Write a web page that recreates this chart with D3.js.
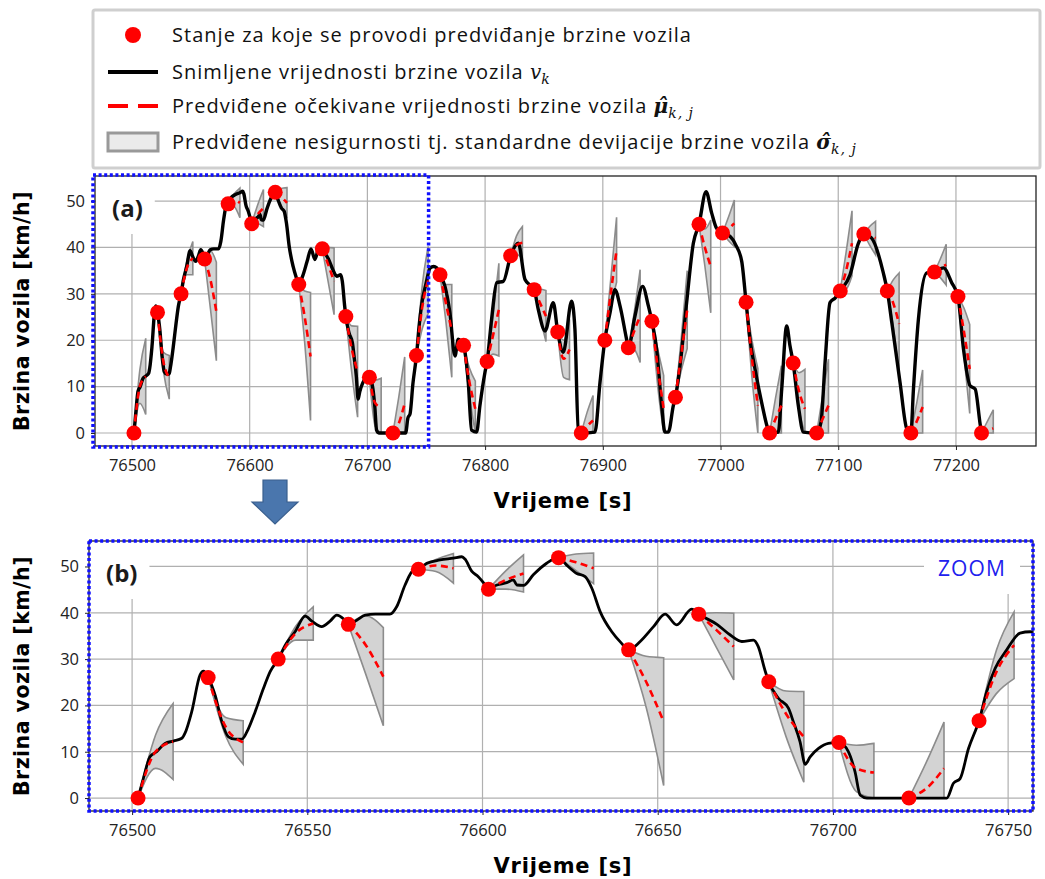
<!DOCTYPE html>
<html><head><meta charset="utf-8">
<script src="https://cdn.jsdelivr.net/npm/d3@7"></script>
<style>body{margin:0;background:#fff} svg{display:block}</style>
</head><body><svg id="c" width="1045" height="879"></svg>
<script>
// ---------------- DATA ----------------
const speedTime = [76501.7,76503.2,76505.1,76507,76509.4,76511.8,76514.2,76515.1,76517,76519.4,76520.4,76521.7,76523.7,76525.6,76527.5,76529.4,76531.3,76533.2,76535.1,76537.5,76539.4,76541.7,76543.7,76546.5,76549.4,76551.3,76554.1,76556.5,76558.4,76560.3,76561.7,76564.1,76566.5,76569.4,76573.6,76575.5,76577.9,76580.3,76581.7,76584.1,76587.9,76591.7,76594.1,76595,76596.9,76598.8,76600.7,76601.7,76604.1,76606.9,76608.8,76609.8,76611.7,76614.5,76618.3,76621.7,76624,76626.9,76629.3,76631.2,76633.6,76636.9,76639.7,76641.7,76645,76648.8,76652.1,76655.4,76659.7,76661.7,76666.9,76670.7,76674,76677.3,76678.7,76680.6,76681.7,76684.5,76687.3,76688.7,76690.6,76692.1,76693.5,76695.9,76698.7,76701.7,76704.4,76706.3,76707.8,76709.7,76720,76732.5,76734.4,76736.3,76738.7,76741.1,76741.7,76743.9,76746.3,76749.6,76753.4,76756.3,76758.8,76761.7,76765.9,76770.1,76774.4,76777.2,76780.1,76781.7,76785.7,76788.5,76792.8,76795.6,76799.9,76801.7,76805.5,76809.8,76815.5,76821.7,76828.2,76833.9,76839.5,76841.7,76845.2,76850.9,76857.9,76861.7,76866.4,76873.5,76876.3,76879.2,76881.7,76893.3,76897.6,76901.7,76906.1,76910.3,76914.6,76920.2,76921.7,76927.3,76933.8,76938.7,76941.7,76945.7,76950,76952.8,76955.7,76959.9,76961.7,76965.6,76971.2,76976.9,76981.7,76987.7,76992.5,76996.7,77001.7,77008,77013,77018,77021.7,77025,77029.3,77034.9,77040.6,77041.7,77049.1,77052,77056.2,77059,77061.7,77066.1,77070.4,77081.7,77085.4,77088.8,77093,77097.3,77101.7,77110,77117.1,77121.7,77128.4,77138.3,77141.7,77145.5,77152.5,77158.2,77161.7,77163.9,77168.1,77175.2,77181.7,77189.4,77196.4,77201.7,77206.4,77212,77216.3,77220.5,77221.7];
const speedKmh = [0,4.2,8.9,10,11.8,12.3,12.9,14,18.6,26.6,27.4,26,22.2,16.5,13.2,12.7,12.7,15,18.6,23.7,27.3,30,33,35.9,39.3,38.2,37,38.2,39.5,38.7,37.5,38.4,39.5,39.7,39.7,41.3,46,49.2,49.4,50.7,51.4,51.8,52.1,51.6,49,47.8,46.1,45.1,46,46.5,47.1,46,45.9,48.2,50.7,51.9,50.3,48.5,47.8,45.3,40.2,35.9,33.4,32,33.8,37,39.7,37.4,40.8,39.7,37.5,35.2,33.8,34.1,32.7,27.6,25.1,21.5,19.4,16.5,12.2,7.3,8.9,10.7,11.8,12,10,5.7,0.6,0,0,0,3.2,4.2,10.7,15.4,16.7,23,28,32,35.6,35.9,35.6,34.1,31.6,25.9,16.6,20.2,19.5,18.9,10.9,0.6,0.2,5.9,13.1,15.4,24.5,32.4,32.7,38.2,40.9,33.1,31.6,30.9,26.6,22,28.1,21.8,17.4,28.4,22.4,0.2,0,0.2,10.9,20,25.9,30.9,27.4,20.2,18.4,25.2,31.6,27.4,24.1,18.1,5.9,0.2,0.2,5.9,7.7,14.5,28.1,40.9,45,52,47.4,44.1,43.1,42.4,40.5,37,28.2,20.2,13.8,6.6,0.6,0,0.2,9.5,23.1,18.8,15.1,5.9,0.2,0,2.4,15.2,28.1,29.1,30.6,34.1,40.9,42.9,42,34.5,30.6,23.8,10.9,0.9,0,9.5,24.5,34.5,34.7,35.6,32.4,29.4,18.1,10.2,9.5,2,0];

const stateTime = [76501.7,76521.7,76541.7,76561.7,76581.7,76601.7,76621.7,76641.7,76661.7,76681.7,76701.7,76721.7,76741.7,76761.7,76781.7,76801.7,76821.7,76841.7,76861.7,76881.7,76901.7,76921.7,76941.7,76961.7,76981.7,77001.7,77021.7,77041.7,77061.7,77081.7,77101.7,77121.7,77141.7,77161.7,77181.7,77201.7,77221.7];
const stateSpeed = [0,26,30,37.5,49.4,45.1,51.9,32,39.7,25.1,12,0,16.7,34.1,18.9,15.4,38.2,30.9,21.8,0,20,18.4,24.1,7.7,45,43.1,28.2,0,15.1,0,30.6,42.9,30.6,0,34.7,29.4,0];

// prediction at horizon offsets 0 s, 5 s, 10 s
const predOffsets = [0, 5, 10];
const predMeanMid = [10,15.4,35.6,33,50.2,47.1,50.9,25.1,36.3,18.1,6.4,2.1,27.3,28,11,21,40.5,28,16,1.5,30,22,14,17,40,44,16,3,9,3,35,42.5,28,2.5,35.5,22,0.5];
const predMeanEnd = [12.2,12,37.7,26.2,49.6,48.5,49.6,16.5,32.7,13.2,5.5,6.4,33,22,5.2,26.6,41,25.2,18,2.7,39.5,25.2,5.2,26.6,35.9,45.2,5.9,5.9,5.2,5.9,40.9,42,23.5,5.6,36.3,13.8,1];
const predSigmaMid = [3.6,2,1.5,6.3,1.3,2,1.8,5.5,3.7,5,5,5.7,4.7,4,3,4,2,3,4,3,3,4,4,3.5,4,2.5,4,4.5,4,5,4,2,5,4,2,5,2];
const predSigmaEnd = [8.2,4.7,3.6,10.6,3.2,4,3.3,13.8,7.2,9.8,6.3,10,7.2,10,6,10,3.5,5.5,6.5,5.4,7,10,7.2,8.4,10,5,8,8.6,8.5,10,7,3.6,11,8,4.4,9.6,4];

const xTicksA = [76500,76600,76700,76800,76900,77000,77100,77200];
const xTicksB = [76500,76550,76600,76650,76700,76750];
const yTicks = [0,10,20,30,40,50];
const zoomEnd = 76752;

const legendLabels = [
  ["Stanje za koje se provodi predviđanje brzine vozila"],
  ["Snimljene vrijednosti brzine vozila ", "v", "k"],
  ["Predviđene očekivane vrijednosti brzine vozila ", "\u03BC\u0302", "k, j"],
  ["Predviđene nesigurnosti tj. standardne devijacije brzine vozila ", "\u03C3\u0302", "k, j"]
];
const xLabel = "Vrijeme [s]";
const yLabel = "Brzina vozila [km/h]";

// ---------------- DRAW ----------------
const svg = d3.select("#c");
const FONT = "'Open Sans', 'DejaVu Sans', sans-serif";
const BFONT = "'DejaVu Sans', sans-serif";
const RED = "#ff0000";

function fitWidth(sel, target) {
  const n = sel.node();
  const len = n.getComputedTextLength();
  const ls = (target - len) / n.textContent.length;
  sel.attr("letter-spacing", ls);
  return ls;
}

function panel(cfg) {
  const {left, right, top, bottom, xDom, yDom, ticksX, id, lw, dotR, tag} = cfg;
  const x = d3.scaleLinear().domain(xDom).range([left, right]);
  const y = d3.scaleLinear().domain(yDom).range([bottom, top]);
  const g = svg.append("g");
  svg.append("clipPath").attr("id", id).append("rect")
    .attr("x", left).attr("y", top).attr("width", right - left).attr("height", bottom - top);

  // grid
  const grid = g.append("g").attr("stroke", "#b0b0b0").attr("stroke-width", 1.2);
  ticksX.forEach(t => grid.append("line").attr("x1", x(t)).attr("x2", x(t)).attr("y1", top).attr("y2", bottom));
  yTicks.forEach(v => grid.append("line").attr("x1", left).attr("x2", right).attr("y1", y(v)).attr("y2", y(v)));

  // tag label with white box
  const tagG = g.append("g");
  const tagBox = tagG.append("rect").attr("fill", "#fff");
  const tagT = tagG.append("text").attr("x", left + 17).attr("y", top + 41)
    .attr("font-family", FONT).attr("font-size", 24).attr("font-weight", "bold").attr("fill", "#1b1b1b").text(tag);
  const bb = tagT.node().getBBox();
  tagBox.attr("x", left + 1).attr("y", top + 1).attr("width", bb.x + bb.width + 12 - left - 1).attr("height", bb.y + bb.height + 10 - top - 1);

  const plot = g.append("g").attr("clip-path", `url(#${id})`);
  // bands
  const area = d3.area().x(d => x(d.t)).y0(d => y(Math.max(0, d.m - d.s))).y1(d => y(d.m + d.s)).curve(d3.curveMonotoneX);
  const line = d3.line().x(d => x(d.t)).y(d => y(d.m)).curve(d3.curveMonotoneX);
  const fans = stateTime.map((t, i) => {
    const m = [stateSpeed[i], predMeanMid[i], predMeanEnd[i]];
    const s = [0, predSigmaMid[i], predSigmaEnd[i]];
    return predOffsets.map((o, k) => ({t: t + o, m: m[k], s: s[k]}));
  });
  plot.append("g").selectAll("path").data(fans).join("path")
    .attr("d", area).attr("fill", "#d3d3d3").attr("stroke", "#8c8c8c").attr("stroke-width", 1.6);
  // measured speed
  const sp = speedTime.map((t, i) => ({t, v: speedKmh[i]}));
  plot.append("path").datum(sp).attr("d", d3.line().x(d => x(d.t)).y(d => y(d.v)).curve(d3.curveMonotoneX))
    .attr("fill", "none").attr("stroke", "#000").attr("stroke-width", lw).attr("stroke-linejoin", "round");
  // predicted mean
  plot.append("g").selectAll("path").data(fans).join("path")
    .attr("d", line).attr("fill", "none").attr("stroke", RED).attr("stroke-width", 2.6).attr("stroke-dasharray", "7,4.5");
  // dots
  plot.append("g").selectAll("circle").data(stateTime).join("circle")
    .attr("cx", d => x(d)).attr("cy", (d, i) => y(stateSpeed[i])).attr("r", dotR).attr("fill", RED);

  // frame
  g.append("rect").attr("x", left).attr("y", top).attr("width", right - left).attr("height", bottom - top)
    .attr("fill", "none").attr("stroke", "#222").attr("stroke-width", 1.3);

  // axes
  const ax = g.append("g").attr("transform", `translate(0,${bottom})`)
    .call(d3.axisBottom(x).tickValues(ticksX).tickFormat(d3.format("d")).tickSize(4).tickPadding(9));
  const ay = g.append("g").attr("transform", `translate(${left},0)`)
    .call(d3.axisLeft(y).tickValues(yTicks).tickSize(4).tickPadding(6));
  [ax, ay].forEach(a => {
    a.select(".domain").remove();
    a.selectAll("text").attr("font-family", FONT).attr("font-size", 16.5).attr("fill", "#222");
    a.selectAll("line").attr("stroke", "#222");
  });
  const xl = g.append("text").attr("x", 563).attr("y", bottom + 62).attr("text-anchor", "middle")
    .attr("font-family", BFONT).attr("font-size", 21).attr("font-weight", "bold").text(xLabel);
  fitWidth(xl, 139);
  const yl = g.append("text").attr("transform", `translate(29,${(top + bottom) / 2}) rotate(-90)`).attr("text-anchor", "middle")
    .attr("font-family", BFONT).attr("font-size", 20.5).attr("font-weight", "bold").text(yLabel);
  fitWidth(yl, 240);
  return {x, y, g};
}

const A = panel({left: 95, right: 1036, top: 176, bottom: 446, xDom: [76468.6, 77268], yDom: [-2.8, 55.4],
  ticksX: xTicksA, id: "clipA", lw: 3.4, dotR: 7.5, tag: "(a)"});
const B = panel({left: 89, right: 1033, top: 541, bottom: 811, xDom: [76487.7, 76757.1], yDom: [-2.8, 55.5],
  ticksX: xTicksB, id: "clipB", lw: 2.8, dotR: 7.5, tag: "(b)"});

// zoom rectangle in panel (a)
const blue = "#1010ff";
svg.append("rect").attr("x", 93).attr("y", 175).attr("width", A.x(zoomEnd) - 93).attr("height", 447 - 175)
  .attr("fill", "none").attr("stroke", blue).attr("stroke-width", 3.5).attr("stroke-dasharray", "3,2.6");
svg.append("rect").attr("x", 89).attr("y", 541).attr("width", 1033 - 89).attr("height", 811 - 541)
  .attr("fill", "none").attr("stroke", blue).attr("stroke-width", 3.5).attr("stroke-dasharray", "3,2.6");
// ZOOM label
const zg = svg.append("g");
const zbox = zg.append("rect").attr("fill", "#fff");
const zt = zg.append("text").attr("x", 972).attr("y", 576).attr("text-anchor", "middle")
  .attr("font-family", FONT).attr("font-size", 21).attr("fill", "#2020ee").text("ZOOM");
fitWidth(zt, 68);
const zb = zt.node().getBBox();
zbox.attr("x", zb.x - 14).attr("y", 543).attr("width", zb.width + 28).attr("height", zb.y + zb.height + 12 - 543);

// arrow
svg.append("path").attr("d", "M263,480 L287,480 L287,502 L298,502 L275,524 L252,502 L263,502 Z")
  .attr("fill", "#4a76ad").attr("stroke", "#3a5f8e").attr("stroke-width", 1.2);

// legend
const lg = svg.append("g");
lg.append("rect").attr("x", 93).attr("y", 10).attr("width", 947).attr("height", 158).attr("rx", 2)
  .attr("fill", "#fff").attr("stroke", "#cfcfcf").attr("stroke-width", 3);
const rowsY = [35, 72, 106, 142];
lg.append("circle").attr("cx", 133).attr("cy", rowsY[0]).attr("r", 8).attr("fill", RED);
lg.append("line").attr("x1", 108).attr("x2", 158).attr("y1", rowsY[1]).attr("y2", rowsY[1]).attr("stroke", "#000").attr("stroke-width", 4);
lg.append("line").attr("x1", 108).attr("x2", 158).attr("y1", rowsY[2]).attr("y2", rowsY[2]).attr("stroke", RED).attr("stroke-width", 4).attr("stroke-dasharray", "20,10");
lg.append("rect").attr("x", 108).attr("y", rowsY[3] - 9).attr("width", 50).attr("height", 18).attr("fill", "#ebebeb").attr("stroke", "#999").attr("stroke-width", 3);
let legendSpacing = null;
legendLabels.forEach((parts, i) => {
  const t = lg.append("text").attr("x", 172).attr("y", rowsY[i] + 7).attr("font-family", FONT).attr("font-size", 20).attr("fill", "#111");
  const main = t.append("tspan").text(parts[0]);
  if (legendSpacing === null) legendSpacing = fitWidth(main, 520);
  else main.attr("letter-spacing", legendSpacing);
  if (parts.length > 1) {
    t.append("tspan").attr("letter-spacing", 0).attr("font-family", "'DejaVu Serif', serif").attr("font-style", "italic")
      .attr("font-weight", i > 1 ? "bold" : "normal").attr("font-size", 20).text(parts[1]);
    t.append("tspan").attr("letter-spacing", 1).attr("font-family", "'DejaVu Serif', serif").attr("font-style", "italic")
      .attr("font-size", 14).attr("dy", 5).text(parts[2]);
  }
});
</script></body></html>
